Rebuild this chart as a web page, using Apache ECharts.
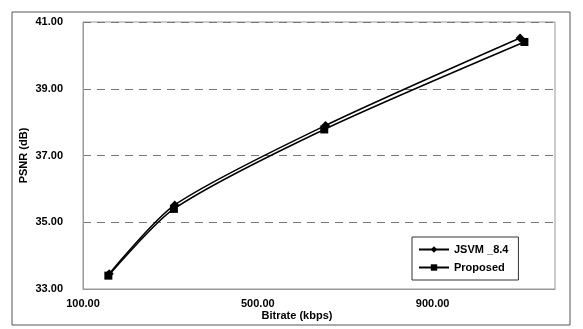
<!DOCTYPE html>
<html><head><meta charset="utf-8">
<script src="https://cdn.jsdelivr.net/npm/echarts@6/dist/echarts.min.js"></script>
<style>html,body{margin:0;padding:0;background:#fff}#c{width:583px;height:329px}</style>
</head><body><div id="c"></div>
<script>
const seriesNames = ['JSVM _8.4', 'Proposed'];
const jsvmX = [160, 310, 655, 1100];
const jsvmY = [33.46, 35.52, 37.90, 40.52];
const propX = [158, 308, 652, 1110];
const propY = [33.40, 35.40, 37.78, 40.40];
const xTicks = [100, 500, 900];
const yTicks = [33, 35, 37, 39, 41];

const chart = echarts.init(document.getElementById('c'), null, {renderer: 'canvas'});
const font = 'Arial, "Liberation Sans", sans-serif';
chart.setOption({
  animation: false,
  backgroundColor: '#fff',
  graphic: [{
    type: 'rect', shape: {x: 12, y: 12, width: 558, height: 313},
    style: {fill: 'none', stroke: '#555', lineWidth: 1}, silent: true
  }],
  grid: {left: 83, right: 28, top: 22, bottom: 40, show: true, borderColor: '#999', borderWidth: 1},
  legend: {
    data: seriesNames,
    orient: 'vertical', left: 412, top: 237,
    itemWidth: 30, itemHeight: 8, itemGap: 7,
    padding: [7, 10, 7, 6],
    borderColor: '#333', borderWidth: 1, backgroundColor: '#fff',
    textStyle: {fontFamily: font, fontWeight: 'bold', fontSize: 11, color: '#000'}
  },
  xAxis: {
    type: 'value', min: 100, max: 1180, interval: 400,
    name: 'Bitrate (kbps)', nameLocation: 'middle', nameGap: 21, nameMoveOverlap: false,
    nameTextStyle: {fontFamily: font, fontWeight: 'bold', fontSize: 11, color: '#000', padding: [0, 44, 0, 0]},
    axisLine: {show: true, lineStyle: {color: '#999'}},
    axisTick: {show: false},
    splitLine: {show: false},
    axisLabel: {
      fontFamily: font, fontWeight: 'bold', fontSize: 11, color: '#000', margin: 9,
      showMaxLabel: false,
      formatter: v => xTicks.includes(v) ? v.toFixed(2) : ''
    }
  },
  yAxis: {
    type: 'value', min: 33, max: 41, interval: 2,
    name: 'PSNR (dB)', nameLocation: 'middle', nameGap: 54, nameRotate: 90, nameMoveOverlap: false,
    nameTextStyle: {fontFamily: font, fontWeight: 'bold', fontSize: 11, color: '#000'},
    axisLine: {show: true, lineStyle: {color: '#999'}},
    axisTick: {show: false},
    splitLine: {show: true, lineStyle: {color: '#777', type: [8, 6], width: 1}},
    axisLabel: {
      fontFamily: font, fontWeight: 'bold', fontSize: 11, color: '#000', margin: 20,
      formatter: v => yTicks.includes(v) ? v.toFixed(2) : ''
    }
  },
  series: [
    {
      name: seriesNames[0], type: 'line', smooth: 0.25,
      data: jsvmX.map((x, i) => [x, jsvmY[i]]),
      symbol: 'diamond', symbolSize: 9,
      lineStyle: {color: '#000', width: 1.5},
      itemStyle: {color: '#000'}
    },
    {
      name: seriesNames[1], type: 'line', smooth: 0.25,
      data: propX.map((x, i) => [x, propY[i]]),
      symbol: 'rect', symbolSize: 8,
      lineStyle: {color: '#000', width: 1.5},
      itemStyle: {color: '#000'}
    }
  ]
});
</script></body></html>
